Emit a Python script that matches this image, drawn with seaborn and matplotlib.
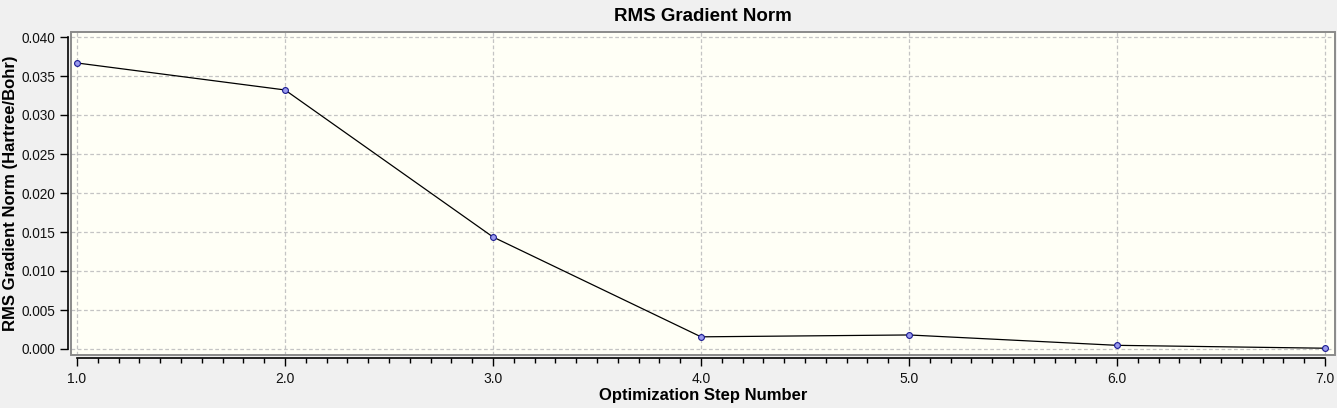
import matplotlib
matplotlib.use("Agg")
import matplotlib.pyplot as plt
from matplotlib.patches import Rectangle
from matplotlib.ticker import MultipleLocator, FormatStrFormatter
import seaborn as sns
import pandas as pd

steps = [1, 2, 3, 4, 5, 6, 7]
rms_grad = [0.03667, 0.03321, 0.01436, 0.00156, 0.00180, 0.00047, 0.00010]
title = "RMS Gradient Norm"
xlabel = "Optimization Step Number"
ylabel = "RMS Gradient Norm (Hartree/Bohr)"

df = pd.DataFrame({"step": steps, "rms": rms_grad})

sns.set_theme(style="white")
plt.rcParams["font.family"] = ["Liberation Sans", "DejaVu Sans"]
plt.rcParams["text.color"] = "black"
plt.rcParams["axes.labelcolor"] = "black"

W, H = 1337, 408
fig = plt.figure(figsize=(W / 100, H / 100), dpi=100)
fig.patch.set_facecolor("#f0f0f0")
ax = fig.add_axes([71 / W, 1 - 355 / H, (1335 - 71) / W, (355 - 31.7) / H])
ax.set_facecolor("#fffff6")

sns.lineplot(data=df, x="step", y="rms", ax=ax, color="black", linewidth=0.9,
             marker="o", markersize=4.2, markerfacecolor="#9a9aee",
             markeredgecolor="#1a1a90", markeredgewidth=0.8, zorder=3)

ax.set_xlim(1 - 6 / 208, 7 + 10 / 208)
ax.set_ylim(-6 / 7800, 0.04 + 5.3 / 7800)

ax.xaxis.set_major_locator(MultipleLocator(1.0))
ax.xaxis.set_minor_locator(MultipleLocator(0.1))
ax.xaxis.set_major_formatter(FormatStrFormatter("%.1f"))
ax.yaxis.set_major_locator(MultipleLocator(0.005))
ax.yaxis.set_major_formatter(FormatStrFormatter("%.3f"))

ax.grid(True, which="major", color="#c4c4c4", linestyle=(0, (3, 2)), linewidth=0.9)
ax.set_axisbelow(True)

for s in ["top", "right"]:
    ax.spines[s].set_visible(False)
ax.spines["left"].set_position(("outward", 2))
ax.spines["bottom"].set_position(("outward", 2.4))
ax.spines["left"].set_bounds(0, 0.04)
ax.spines["bottom"].set_bounds(1, 7)
for s in ["left", "bottom"]:
    ax.spines[s].set_color("black")
    ax.spines[s].set_linewidth(1.2)

ax.add_patch(Rectangle((0, 0), 1, 1, transform=ax.transAxes, fill=False,
                       edgecolor="#8a8a8a", linewidth=1.4, clip_on=False, zorder=5))

ax.tick_params(axis="x", which="major", direction="out", length=6, width=1,
               color="black", labelsize=10, pad=4, bottom=True, labelcolor="#111111")
ax.tick_params(axis="x", which="minor", direction="out", length=3.5, width=1,
               color="black", bottom=True)
ax.tick_params(axis="y", which="major", direction="out", length=6, width=1,
               color="black", labelsize=9.8, pad=3, left=True, labelcolor="#111111")

ax.set_xlabel(xlabel, fontsize=12, fontweight="bold", labelpad=1)
ax.set_ylabel(ylabel, fontsize=12, fontweight="bold", labelpad=3)
ax.set_title(title, fontsize=13.5, fontweight="bold", pad=8)

fig.savefig("out.png", dpi=100, facecolor=fig.get_facecolor())
